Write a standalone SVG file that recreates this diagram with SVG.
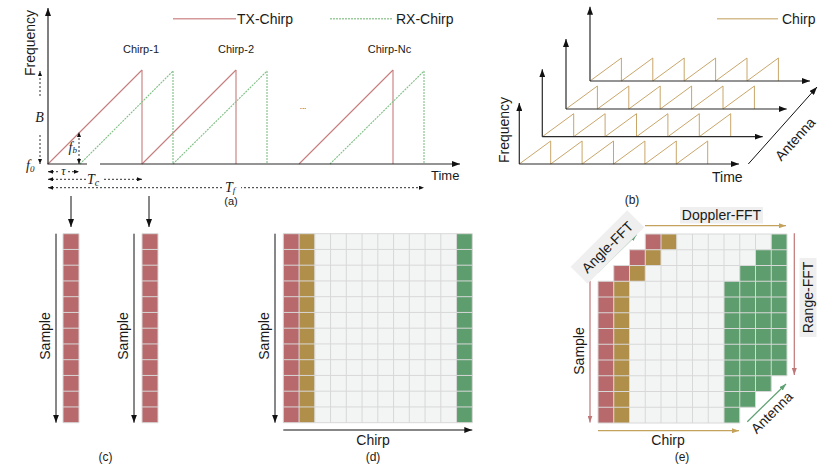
<svg xmlns="http://www.w3.org/2000/svg" width="831" height="472" viewBox="0 0 831 472">
<style>
.t{font-family:"Liberation Sans",Arial,sans-serif;fill:#1a1a1a}
.m{font-family:"Liberation Serif","Times New Roman",serif;font-style:italic;fill:#1a1a1a}
.ax{stroke:#2a2a2a;stroke-width:1.2;fill:none}
.ds{stroke:#1a1a1a;stroke-width:0.9;stroke-dasharray:2,2;fill:none}
.tx{stroke:#c67b7b;stroke-width:1.1;fill:none}
.rx{stroke:#7fbf84;stroke-width:1.1;stroke-dasharray:2,1;fill:none}
.saw{stroke:#c9a66a;stroke-width:1;fill:none}
.red{fill:#b8696c}
.gold{fill:#b08f4a}
.lt{fill:#f3f4f4}
.grn{fill:#5e9e6e}
.grid{stroke:#d8d8d8;stroke-width:1;fill:none}
.box{fill:#efefef}
</style>
<defs>
<marker id="a8" viewBox="0 0 8 6" refX="8" refY="3" markerWidth="8" markerHeight="6" markerUnits="userSpaceOnUse" orient="auto-start-reverse"><path d="M0,0L8,3L0,6z" fill="#111"/></marker>
<marker id="a5" viewBox="0 0 5 4" refX="5" refY="2" markerWidth="5" markerHeight="4" markerUnits="userSpaceOnUse" orient="auto-start-reverse"><path d="M0,0L5,2L0,4z" fill="#111"/></marker>
<marker id="ar" viewBox="0 0 7 5" refX="7" refY="2.5" markerWidth="7" markerHeight="5" markerUnits="userSpaceOnUse" orient="auto"><path d="M0,0L7,2.5L0,5z" fill="#c07577"/></marker>
<marker id="ag" viewBox="0 0 7 5" refX="7" refY="2.5" markerWidth="7" markerHeight="5" markerUnits="userSpaceOnUse" orient="auto"><path d="M0,0L7,2.5L0,5z" fill="#c4a25c"/></marker>
<marker id="an" viewBox="0 0 7 5" refX="7" refY="2.5" markerWidth="7" markerHeight="5" markerUnits="userSpaceOnUse" orient="auto"><path d="M0,0L7,2.5L0,5z" fill="#5fa072"/></marker>
</defs>

<!-- Panel (a) -->
<g id="panel-a">
  <g id="a-legend">
    <line x1="173" y1="18.7" x2="236" y2="18.7" stroke="#d49a9a" stroke-width="1.5"/>
    <text class="t" x="237" y="24" font-size="14">TX-Chirp</text>
    <line x1="330" y1="18.7" x2="393" y2="18.7" stroke="#9ccc9c" stroke-width="1.5" stroke-dasharray="2,1"/>
    <text class="t" x="396" y="24" font-size="14">RX-Chirp</text>
  </g>
  <g id="a-chirps">
    <line x1="48" y1="164" x2="142" y2="70" stroke="#c67b7b" stroke-width="1.1"/>
    <line x1="142" y1="70" x2="142" y2="164" stroke="#c67b7b" stroke-width="1.1"/>
    <line x1="142" y1="164" x2="236" y2="70" stroke="#c67b7b" stroke-width="1.1"/>
    <line x1="236" y1="70" x2="236" y2="164" stroke="#c67b7b" stroke-width="1.1"/>
    <line x1="299" y1="164" x2="393" y2="70" stroke="#c67b7b" stroke-width="1.1"/>
    <line x1="393" y1="70" x2="393" y2="164" stroke="#c67b7b" stroke-width="1.1"/>
    <line x1="80" y1="164" x2="173" y2="71" stroke="#7fbf84" stroke-width="1.1" stroke-dasharray="2,1"/>
    <line x1="173" y1="71" x2="173" y2="164" stroke="#7fbf84" stroke-width="1.1" stroke-dasharray="2,1"/>
    <line x1="173" y1="164" x2="267" y2="71" stroke="#7fbf84" stroke-width="1.1" stroke-dasharray="2,1"/>
    <line x1="267" y1="71" x2="267" y2="164" stroke="#7fbf84" stroke-width="1.1" stroke-dasharray="2,1"/>
    <line x1="330" y1="164" x2="424" y2="71" stroke="#7fbf84" stroke-width="1.1" stroke-dasharray="2,1"/>
    <line x1="424" y1="71" x2="424" y2="164" stroke="#7fbf84" stroke-width="1.1" stroke-dasharray="2,1"/>
  </g>
  <g id="a-labels">
    <text class="t" x="141" y="53" font-size="11" text-anchor="middle">Chirp-1</text>
    <text class="t" x="236" y="53" font-size="11" text-anchor="middle">Chirp-2</text>
    <text class="t" x="389.5" y="53" font-size="11" text-anchor="middle">Chirp-Nc</text>
    <text class="t" x="303" y="109" font-size="8" text-anchor="middle" fill="#777">...</text>
    <text class="t" transform="translate(34.5,43) rotate(-90)" font-size="14" text-anchor="middle">Frequency</text>
    <text class="t" x="431" y="180" font-size="13">Time</text>
    <text class="t" x="231" y="205" font-size="11" text-anchor="middle">(a)</text>
  </g>
  <g id="a-axes">
    <line class="ax" x1="48" y1="164" x2="48" y2="8" marker-end="url(#a8)"/>
    <line class="ax" x1="47.4" y1="164" x2="87" y2="164"/>
    <line class="ax" x1="100" y1="164" x2="460" y2="164" marker-end="url(#a8)"/>
  </g>
  <g id="a-annotations">
    <line class="ds" x1="40" y1="96" x2="40" y2="71" marker-end="url(#a5)"/>
    <text class="m" x="39.5" y="122" font-size="14" text-anchor="middle">B</text>
    <line class="ds" x1="40" y1="135" x2="40" y2="164" marker-end="url(#a5)"/>
    <text class="m" x="26" y="170" font-size="14">f<tspan font-size="9" dy="2">0</tspan></text>
    <line class="ds" x1="79" y1="164" x2="79" y2="132" marker-start="url(#a5)" marker-end="url(#a5)"/>
    <text class="m" x="68.5" y="152" font-size="14">f<tspan font-size="9" dy="1">b</tspan></text>
    <line class="ds" x1="48" y1="171.7" x2="79" y2="171.7" marker-start="url(#a5)" marker-end="url(#a5)"/>
    <rect x="59" y="166" width="9" height="9" fill="#fff"/>
    <text class="m" x="63.5" y="175" font-size="12" text-anchor="middle">τ</text>
    <line class="ds" x1="48" y1="179.3" x2="142" y2="179.3" marker-start="url(#a5)" marker-end="url(#a5)"/>
    <rect x="86" y="173" width="17" height="12" fill="#fff"/>
    <text class="m" x="87" y="184" font-size="14">T<tspan font-size="10" dy="2">c</tspan></text>
    <line class="ds" x1="48" y1="187.7" x2="424" y2="187.7" marker-start="url(#a5)" marker-end="url(#a5)"/>
    <rect x="224" y="181" width="17" height="12" fill="#fff"/>
    <text class="m" x="225" y="191.5" font-size="14">T<tspan font-size="9" dy="1.5">f</tspan></text>
  </g>
  <g id="a-down-arrows">
    <line x1="71" y1="196" x2="71" y2="227" stroke="#111" stroke-width="1" marker-end="url(#a8)"/>
    <line x1="149" y1="196" x2="149" y2="227" stroke="#111" stroke-width="1" marker-end="url(#a8)"/>
  </g>
</g>

<!-- Panel (b) -->
<g id="panel-b">
  <g id="b-layer3">
    <path class="saw" d="M590,81l31.4,-23v23l31.4,-23v23l31.4,-23v23l31.4,-23v23l31.4,-23v23l31.4,-23v23"/>
    <line class="ax" x1="590" y1="81" x2="590" y2="6.7" marker-end="url(#a8)"/>
    <line class="ax" x1="590" y1="81" x2="810" y2="81" marker-end="url(#a8)"/>
  </g>
  <g id="b-layer2">
    <path class="saw" d="M566,109l31.4,-23v23l31.4,-23v23l31.4,-23v23l31.4,-23v23l31.4,-23v23l31.4,-23v23"/>
    <line class="ax" x1="566" y1="109" x2="566" y2="39" marker-end="url(#a8)"/>
    <line class="ax" x1="566" y1="109" x2="786.7" y2="109" marker-end="url(#a8)"/>
  </g>
  <g id="b-layer1">
    <path class="saw" d="M542.3,136.7l31.4,-23v23l31.4,-23v23l31.4,-23v23l31.4,-23v23l31.4,-23v23l31.4,-23v23"/>
    <line class="ax" x1="542.3" y1="136.7" x2="542.3" y2="69.3" marker-end="url(#a8)"/>
    <line class="ax" x1="542.3" y1="136.7" x2="762.7" y2="136.7" marker-end="url(#a8)"/>
  </g>
  <g id="b-layer0">
    <path class="saw" d="M519.3,164l31.4,-23v23l31.4,-23v23l31.4,-23v23l31.4,-23v23l31.4,-23v23l31.4,-23v23"/>
    <line class="ax" x1="519.3" y1="164" x2="519.3" y2="103" marker-end="url(#a8)"/>
    <line class="ax" x1="519.3" y1="164" x2="739" y2="164" marker-end="url(#a8)"/>
  </g>
  <g id="b-legend">
    <line x1="717" y1="18.7" x2="778" y2="18.7" stroke="#d6bd8f" stroke-width="1.5"/>
    <text class="t" x="782" y="24" font-size="14">Chirp</text>
  </g>
  <g id="b-antenna">
    <line x1="748.3" y1="164" x2="817" y2="87" stroke="#111" stroke-width="1" marker-end="url(#a8)"/>
    <text class="t" transform="translate(795,139) rotate(-48)" y="5" font-size="14" text-anchor="middle">Antenna</text>
  </g>
  <text class="t" transform="translate(509,130) rotate(-90)" font-size="14" text-anchor="middle">Frequency</text>
  <text class="t" x="712" y="182" font-size="14">Time</text>
  <text class="t" x="632" y="204" font-size="12" text-anchor="middle">(b)</text>
</g>

<!-- Panel (c) -->
<g id="panel-c">
  <g id="c-col1" transform="translate(63,233.7)">
    <rect class="red" x="0" y="0" width="16" height="189"/>
    <path class="grid" d="M0,0V189M16,0V189M0,0H16M0,15.75H16M0,31.5H16M0,47.25H16M0,63H16M0,78.75H16M0,94.5H16M0,110.25H16M0,126H16M0,141.75H16M0,157.5H16M0,173.25H16M0,189H16"/>
  </g>
  <g id="c-col2" transform="translate(142,233.7)">
    <rect class="red" x="0" y="0" width="16" height="189"/>
    <path class="grid" d="M0,0V189M16,0V189M0,0H16M0,15.75H16M0,31.5H16M0,47.25H16M0,63H16M0,78.75H16M0,94.5H16M0,110.25H16M0,126H16M0,141.75H16M0,157.5H16M0,173.25H16M0,189H16"/>
  </g>
  <g id="c-arrows">
    <line x1="56" y1="233.7" x2="56" y2="422.7" stroke="#111" stroke-width="1" marker-end="url(#a8)"/>
    <line x1="134" y1="233.7" x2="134" y2="422.7" stroke="#111" stroke-width="1" marker-end="url(#a8)"/>
  </g>
  <text class="t" transform="translate(49.5,336) rotate(-90)" font-size="14" text-anchor="middle">Sample</text>
  <text class="t" transform="translate(128,336) rotate(-90)" font-size="14" text-anchor="middle">Sample</text>
  <text class="t" x="105.5" y="461" font-size="12" text-anchor="middle">(c)</text>
</g>

<!-- Panel (d) -->
<g id="panel-d">
  <g id="d-grid" transform="translate(283.3,233.7)">
    <rect class="red" x="0" y="0" width="15.75" height="189"/>
    <rect class="gold" x="15.75" y="0" width="15.75" height="189"/>
    <rect class="lt" x="31.5" y="0" width="141.75" height="189"/>
    <rect class="grn" x="173.25" y="0" width="15.75" height="189"/>
    <path class="grid" d="M0,0V189M15.75,0V189M31.5,0V189M47.25,0V189M63,0V189M78.75,0V189M94.5,0V189M110.25,0V189M126,0V189M141.75,0V189M157.5,0V189M173.25,0V189M189,0V189M0,0H189M0,15.75H189M0,31.5H189M0,47.25H189M0,63H189M0,78.75H189M0,94.5H189M0,110.25H189M0,126H189M0,141.75H189M0,157.5H189M0,173.25H189M0,189H189"/>
  </g>
  <g id="d-arrows">
    <line x1="275" y1="233.7" x2="275" y2="422.7" stroke="#111" stroke-width="1" marker-end="url(#a8)"/>
    <line x1="283.3" y1="430" x2="472.3" y2="430" stroke="#111" stroke-width="1" marker-end="url(#a8)"/>
  </g>
  <text class="t" transform="translate(268.5,336) rotate(-90)" font-size="14" text-anchor="middle">Sample</text>
  <text class="t" x="373" y="445" font-size="14" text-anchor="middle">Chirp</text>
  <text class="t" x="373" y="461" font-size="12" text-anchor="middle">(d)</text>
</g>

<!-- Panel (e) -->
<g id="panel-e">
  <g id="e-cube" transform="translate(598,234)">
    <rect class="red" x="47.25" y="0" width="15.75" height="15.75"/>
    <rect class="red" x="31.5" y="15.75" width="15.75" height="15.75"/>
    <rect class="red" x="15.75" y="31.5" width="15.75" height="15.75"/>
    <rect class="red" x="0" y="47.25" width="15.75" height="141.75"/>
    <rect class="gold" x="63" y="0" width="15.75" height="15.75"/>
    <rect class="gold" x="47.25" y="15.75" width="15.75" height="15.75"/>
    <rect class="gold" x="31.5" y="31.5" width="15.75" height="15.75"/>
    <rect class="gold" x="15.75" y="47.25" width="15.75" height="141.75"/>
    <polygon class="lt" points="78.75,0 173.25,0 173.25,15.75 157.5,15.75 157.5,31.5 141.75,31.5 141.75,47.25 126,47.25 126,189 31.5,189 31.5,47.25 47.25,47.25 47.25,31.5 63,31.5 63,15.75 78.75,15.75"/>
    <polygon class="grn" points="173.25,0 189,0 189,141.75 173.25,141.75 173.25,157.5 157.5,157.5 157.5,173.25 141.75,173.25 141.75,189 126,189 126,47.25 141.75,47.25 141.75,31.5 157.5,31.5 157.5,15.75 173.25,15.75"/>
    <path class="grid" d="M47.25,0H189M31.5,15.75H189M15.75,31.5H189M0,47.25H189M0,63H189M0,78.75H189M0,94.5H189M0,110.25H189M0,126H189M0,141.75H189M0,157.5H173.25M0,173.25H157.5M0,189H141.75M0,47.25V189M15.75,31.5V189M31.5,15.75V189M47.25,0V189M63,0V189M78.75,0V189M94.5,0V189M110.25,0V189M126,0V189M141.75,0V189M157.5,0V173.25M173.25,0V157.5M189,0V141.75"/>
  </g>
  <g id="e-arrows">
    <line x1="645" y1="225.7" x2="786" y2="225.7" stroke="#c4a25c" stroke-width="1.2" marker-end="url(#ag)"/>
    <line x1="794.3" y1="233.3" x2="794.3" y2="375" stroke="#c07577" stroke-width="1.2" marker-end="url(#ar)"/>
    <line x1="590" y1="281" x2="590" y2="422.5" stroke="#c07577" stroke-width="1.2" marker-end="url(#ar)"/>
    <line x1="598" y1="430.7" x2="739" y2="430.7" stroke="#c4a25c" stroke-width="1.2" marker-end="url(#ag)"/>
    <line x1="597.7" y1="272.3" x2="636.7" y2="234.3" stroke="#5fa072" stroke-width="1.2" marker-end="url(#an)"/>
    <line x1="747.3" y1="421.7" x2="786" y2="384" stroke="#5fa072" stroke-width="1.2" marker-end="url(#an)"/>
  </g>
  <g id="e-doppler-label">
    <rect class="box" x="680" y="207" width="83" height="16.5"/>
    <text class="t" x="721.5" y="220" font-size="14" text-anchor="middle">Doppler-FFT</text>
  </g>
  <g id="e-range-label">
    <rect class="box" x="799.5" y="258" width="17" height="79"/>
    <text class="t" transform="translate(812.5,297.5) rotate(-90)" font-size="14" text-anchor="middle">Range-FFT</text>
  </g>
  <g id="e-angle-label" transform="translate(607.4,247) rotate(-45)">
    <rect class="box" x="-40" y="-12" width="80" height="24"/>
    <text class="t" x="0" y="5" font-size="14" text-anchor="middle">Angle-FFT</text>
  </g>
  <text class="t" transform="translate(771.7,412.5) rotate(-45)" y="5" font-size="14" text-anchor="middle">Antenna</text>
  <text class="t" transform="translate(584,351) rotate(-90)" font-size="14" text-anchor="middle">Sample</text>
  <text class="t" x="668" y="445" font-size="14" text-anchor="middle">Chirp</text>
  <text class="t" x="682" y="461" font-size="12" text-anchor="middle">(e)</text>
</g>
</svg>
